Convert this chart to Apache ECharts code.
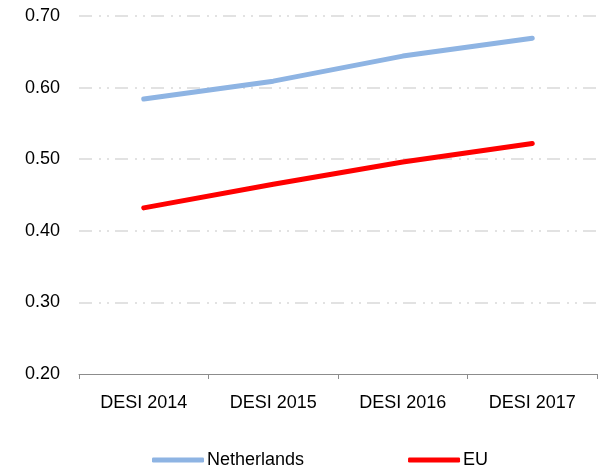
<!DOCTYPE html>
<html>
<head>
<meta charset="utf-8">
<script src="https://cdn.jsdelivr.net/npm/echarts@6/dist/echarts.min.js"></script>
<style>
  html, body { margin: 0; padding: 0; background: #fff; }
  #chart { width: 602px; height: 468px; }
</style>
</head>
<body>
<div id="chart"></div>
<script>
const categories = ["DESI 2014", "DESI 2015", "DESI 2016", "DESI 2017"]
const netherlands = [0.584, 0.609, 0.644, 0.669]
const eu = [0.432, 0.465, 0.496, 0.522]

const fontFamily = "'Liberation Sans', Arial, sans-serif"

const chart = echarts.init(document.getElementById("chart"), null, { renderer: "canvas" })

chart.setOption({
  animation: false,
  grid: { left: 79, right: 5, top: 16, bottom: 94 },
  legend: {
    left: 152,
    top: 451,
    padding: 0,
    itemGap: 104,
    itemWidth: 52,
    itemHeight: 5,
    icon: "roundRect",
    textStyle: { fontFamily, fontSize: 18, color: "#000", padding: [0, 0, 0, -2] },
    data: ["Netherlands", "EU"]
  },
  xAxis: {
    type: "category",
    data: categories,
    boundaryGap: true,
    axisLine: { lineStyle: { color: "#8c8c8c", width: 1 } },
    axisTick: { show: true, length: 5, lineStyle: { color: "#8c8c8c" } },
    axisLabel: { fontFamily, fontSize: 18, color: "#000", margin: 20 }
  },
  yAxis: {
    type: "value",
    min: 0.2,
    max: 0.7,
    interval: 0.1,
    axisLine: { show: false },
    axisTick: { show: false },
    axisLabel: {
      fontFamily, fontSize: 18, color: "#000", margin: 19,
      formatter: (v) => v.toFixed(2)
    },
    splitLine: {
      showMinLine: false,
      lineStyle: { color: "#d9d9d9", width: 1.5, type: [13, 7, 2, 6, 2, 6] }
    }
  },
  series: [
    {
      name: "Netherlands",
      type: "line",
      data: netherlands,
      showSymbol: false,
      symbol: "none",
      itemStyle: { color: "#8eb4e3" },
      lineStyle: { color: "#8eb4e3", width: 5, cap: "round" }
    },
    {
      name: "EU",
      type: "line",
      data: eu,
      showSymbol: false,
      symbol: "none",
      itemStyle: { color: "#ff0000" },
      lineStyle: { color: "#ff0000", width: 5, cap: "round" }
    }
  ]
})
</script>
</body>
</html>
